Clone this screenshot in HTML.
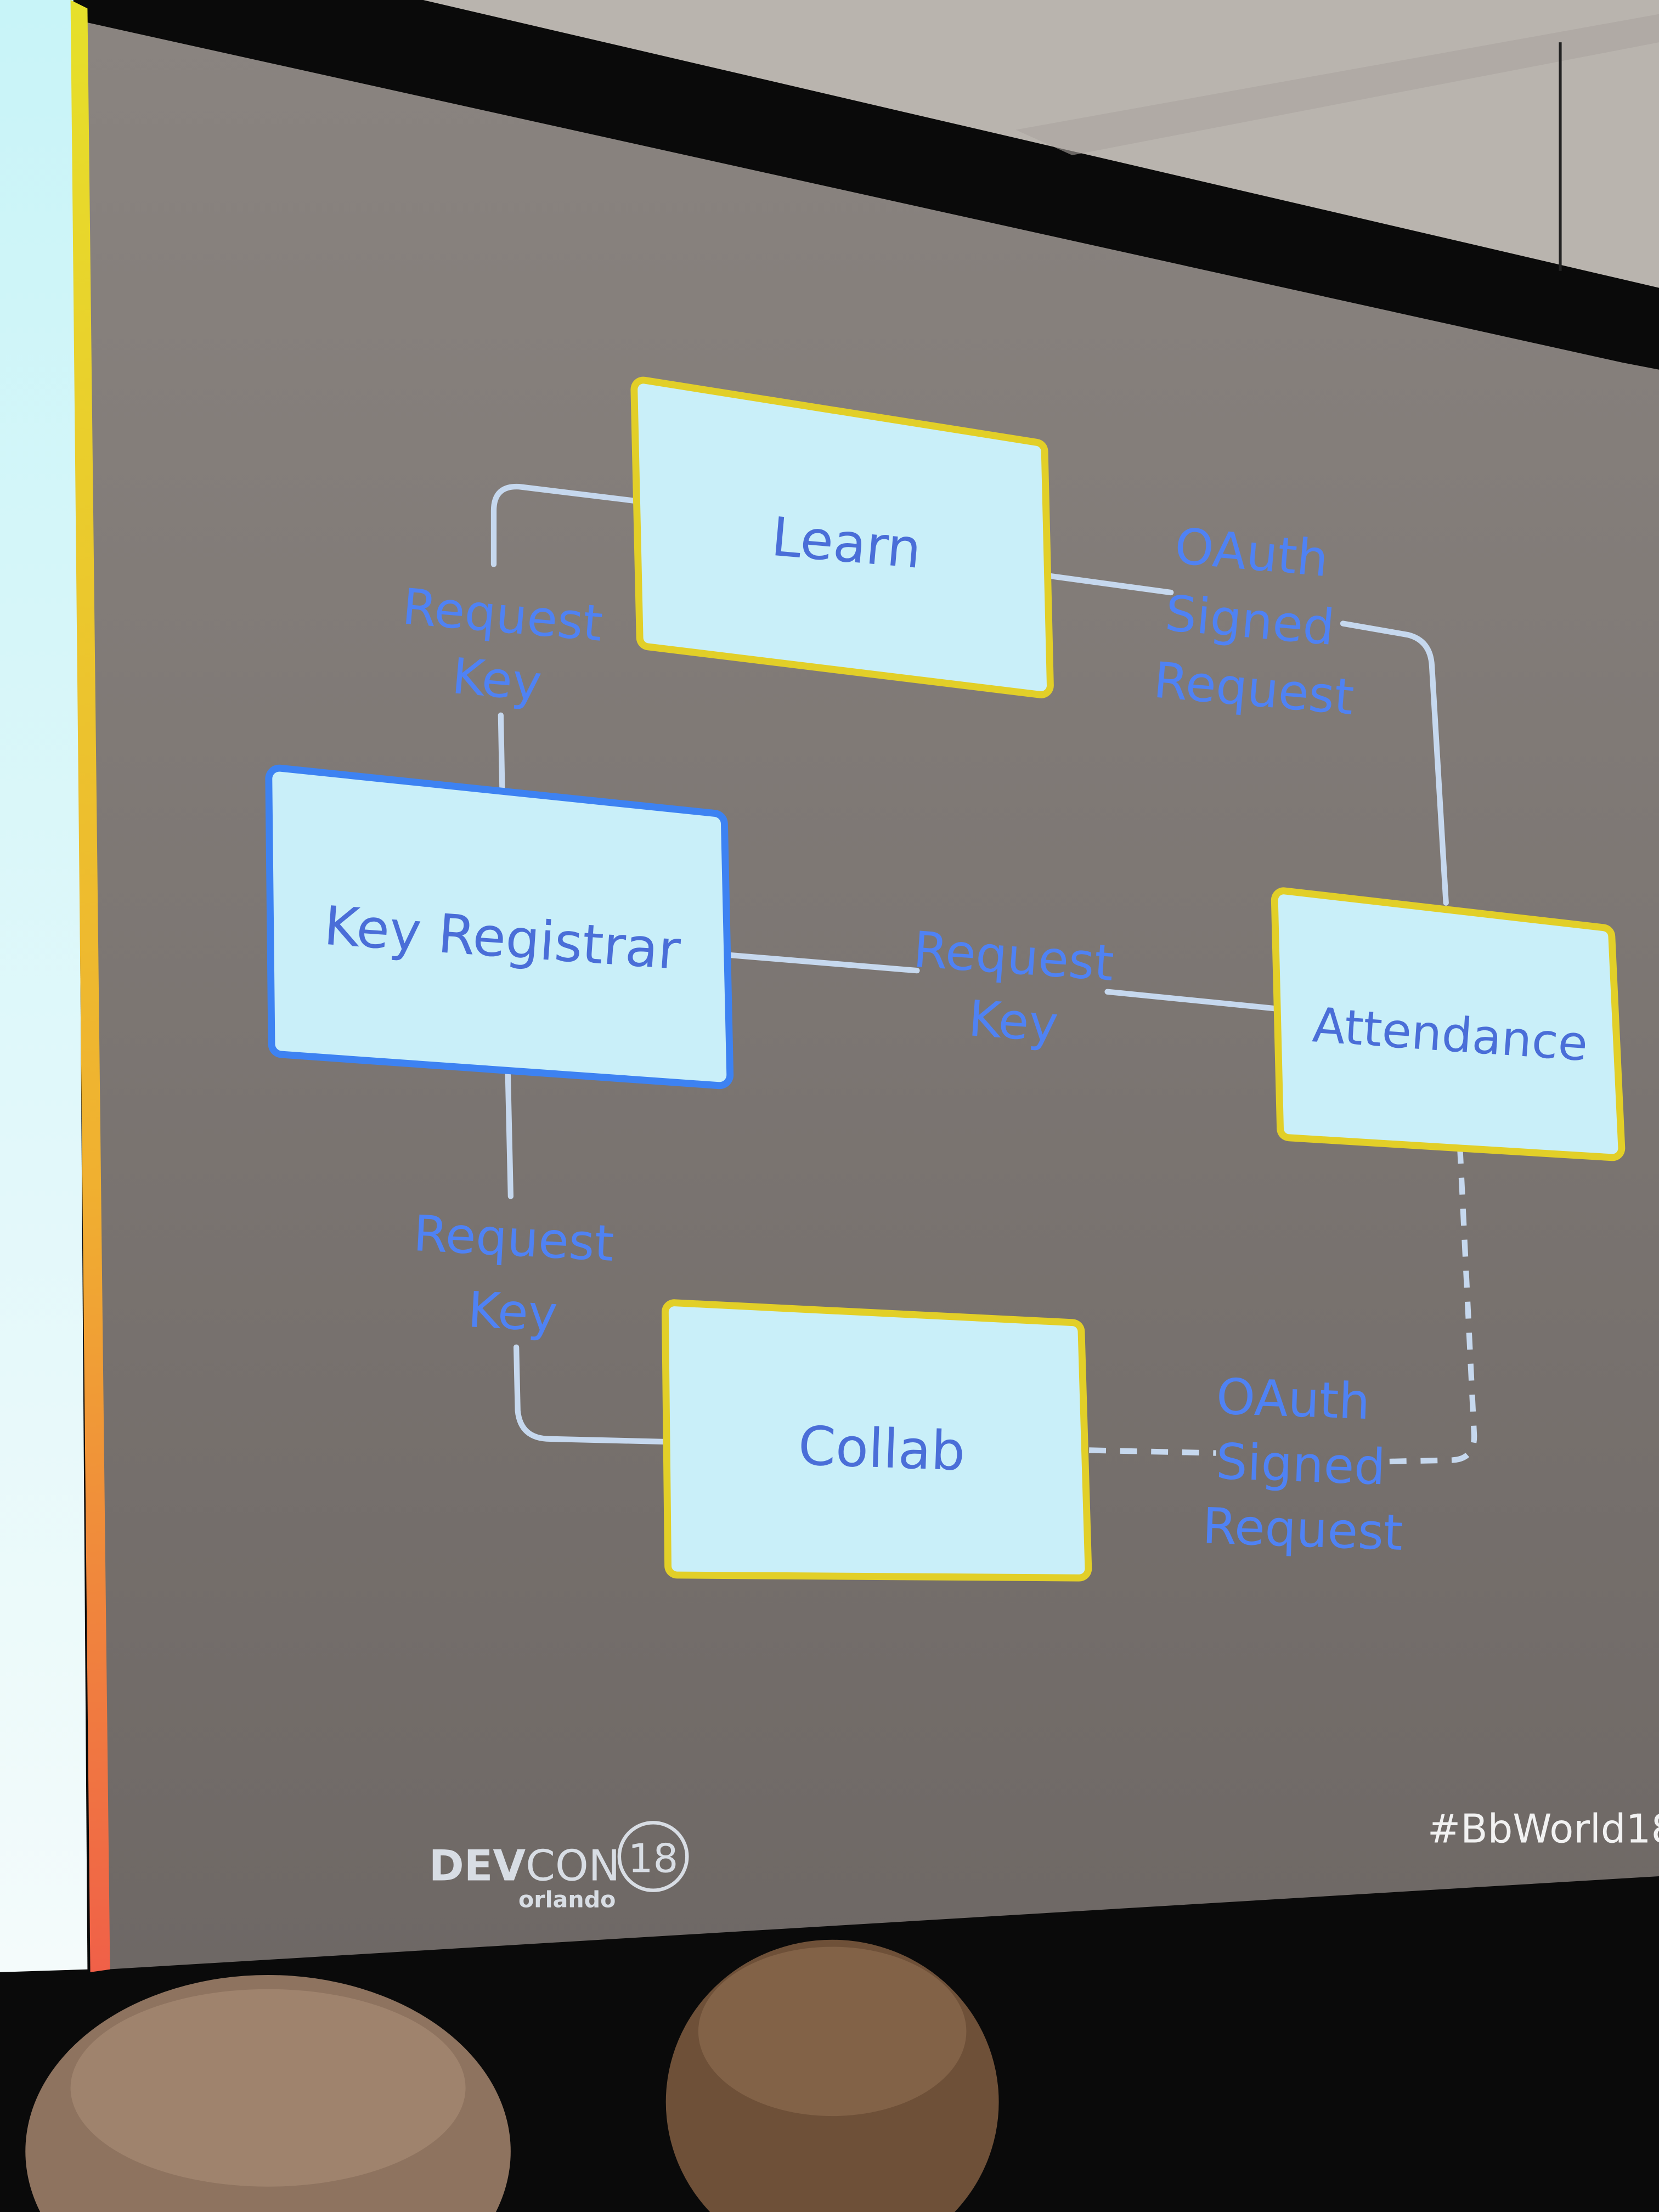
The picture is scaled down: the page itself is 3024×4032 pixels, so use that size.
<!DOCTYPE html>
<html><head><meta charset="utf-8"><style>
html,body{margin:0;padding:0;background:#0a0a0a;width:3024px;height:4032px;overflow:hidden;}
svg{display:block;position:absolute;left:0;top:0;}
text{font-family:"DejaVu Sans","Liberation Sans",sans-serif;}
</style></head><body>
<svg width="3024" height="4032" viewBox="0 0 1176 1568" xmlns="http://www.w3.org/2000/svg">
<defs>
<linearGradient id="slide" x1="0" y1="0" x2="0" y2="1">
<stop offset="0" stop-color="#8a8480"/><stop offset="1" stop-color="#6e6865"/></linearGradient>
<linearGradient id="bar" x1="0" y1="0" x2="0" y2="1">
<stop offset="0" stop-color="#e6e02a"/><stop offset="0.6" stop-color="#f0b030"/><stop offset="1" stop-color="#f06048"/></linearGradient>
<linearGradient id="lft" x1="0" y1="0" x2="0" y2="1">
<stop offset="0" stop-color="#c8f4f8"/><stop offset="1" stop-color="#f4fbfb"/></linearGradient>
</defs>
<rect width="1176" height="1568" fill="#0a0a0a"/>
<polygon points="300,0 1176,0 1176,204" fill="#b9b4ae"/>
<polygon points="720,92 1176,10 1176,30 760,110" fill="#aaa49e" opacity="0.6"/>
<line x1="1106" y1="30" x2="1106" y2="192" stroke="#222" stroke-width="2"/>
<polygon points="62,16 1150,257 1176,262 1176,1330 76,1396" fill="url(#slide)"/>
<polygon points="0,0 52,0 62,1396 0,1398" fill="url(#lft)"/>
<polygon points="50,0 62,6 78,1396 64,1398" fill="url(#bar)"/>
<g fill="none" stroke="#c6d8ee" stroke-width="4" stroke-linecap="round">
<path d="M450,355 L368,345 Q350,344 350,362 L350,400"/>
<path d="M355,507 L356,560"/>
<path d="M742,408 L830,420"/>
<path d="M952,442 L998,450 Q1014,454 1015,472 L1025,640"/>
<path d="M517,677 L650,688"/>
<path d="M785,703 L905,715"/>
<path d="M360,760 L362,848"/>
<path d="M366,955 L367,1000 Q369,1020 390,1020 L472,1022"/>
</g>
<g fill="none" stroke="#c6d8ee" stroke-width="4" stroke-dasharray="12,10">
<path d="M772,1028 L862,1030"/>
<path d="M985,1036 L1030,1035 Q1045,1034 1045,1018 L1035,815"/>
</g>
<g stroke-linejoin="round" stroke-width="6" fill="#c9eff9">
<polygon points="456,276 734,320 738,486 460,452" stroke="#e2cf28" stroke-width="18" fill="#e2cf28"/>
<polygon points="456,276 734,320 738,486 460,452" stroke="#c9eff9" stroke-width="8"/>
<polygon points="198,552 506,584 510,762 200,740" stroke="#3d82f2" stroke-width="20" fill="#3d82f2"/>
<polygon points="198,552 506,584 510,762 200,740" stroke="#c9eff9" stroke-width="10"/>
<polygon points="910,638 1136,664 1143,814 914,800" stroke="#e2cf28" stroke-width="18" fill="#e2cf28"/>
<polygon points="910,638 1136,664 1143,814 914,800" stroke="#c9eff9" stroke-width="8"/>
<polygon points="478,930 760,944 765,1112 480,1110" stroke="#e2cf28" stroke-width="18" fill="#e2cf28"/>
<polygon points="478,930 760,944 765,1112 480,1110" stroke="#c9eff9" stroke-width="8"/>
</g>
<g fill="#4a6ed8" text-anchor="middle" font-size="38">
<text x="600" y="398" transform="rotate(5 600 385)">Learn</text>
<text x="356" y="678" transform="rotate(4 356 665)">Key Registrar</text>
<text x="1028" y="745" font-size="34" transform="rotate(4 1028 733)">Attendance</text>
<text x="625" y="1040" transform="rotate(2 625 1027)">Collab</text>
</g>
<g fill="#4f82f4" text-anchor="middle" font-size="35">
<g transform="rotate(5 355 450)"><text x="355" y="448">Request</text><text x="355" y="494">Key</text></g>
<g transform="rotate(5 888 440)"><text x="883" y="404">OAuth</text><text x="886" y="452">Signed</text><text x="893" y="500">Request</text></g>
<g transform="rotate(4 718 700)"><text x="717" y="690">Request</text><text x="720" y="736">Key</text></g>
<g transform="rotate(3 364 900)"><text x="363" y="890">Request</text><text x="365" y="942">Key</text></g>
<g transform="rotate(2 920 1040)"><text x="915" y="1004">OAuth</text><text x="922" y="1050">Signed</text><text x="925" y="1096">Request</text></g>
</g>
<g fill="#d8dde4">
<text x="304" y="1333" font-size="30" font-weight="bold">DEV<tspan font-weight="normal">CON</tspan></text>
<circle cx="463" cy="1316" r="24" fill="none" stroke="#d8dde4" stroke-width="2.5"/>
<text x="463" y="1327" font-size="28" text-anchor="middle">18</text>
<text x="402" y="1352" font-size="16" text-anchor="middle" font-weight="bold">orlando</text>
<text x="1100" y="1306" font-size="28" text-anchor="middle" fill="#f2f2f2">#BbWorld18</text>
</g>
<ellipse cx="190" cy="1525" rx="172" ry="125" fill="#8e735f"/>
<ellipse cx="190" cy="1480" rx="140" ry="70" fill="#a68a74" opacity="0.7"/>
<ellipse cx="590" cy="1490" rx="118" ry="115" fill="#6e5038"/>
<ellipse cx="590" cy="1440" rx="95" ry="60" fill="#8a6a4e" opacity="0.7"/>
</svg>
</body></html>
